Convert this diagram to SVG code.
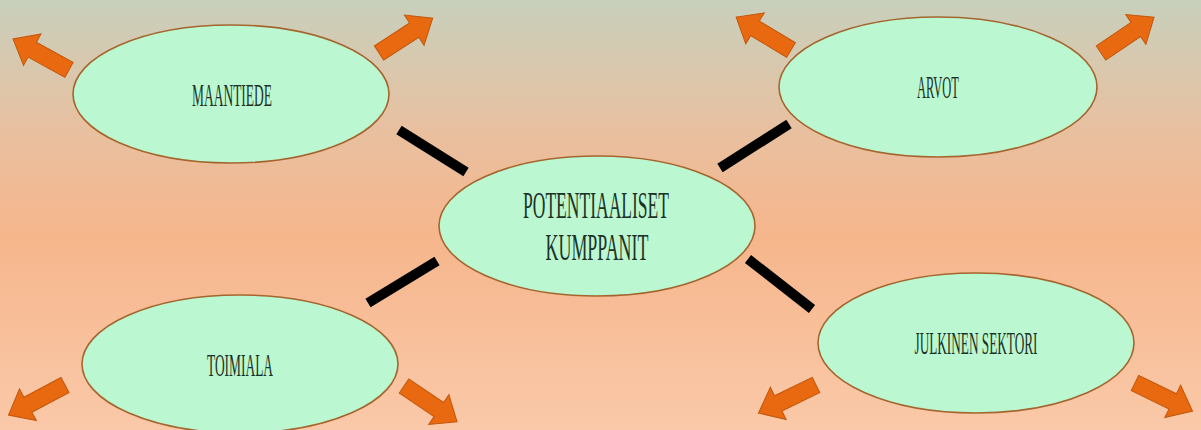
<svg xmlns="http://www.w3.org/2000/svg" width="1201" height="430" viewBox="0 0 1201 430">
<style>
.node ellipse{fill:#bbf7d0;stroke:#a5652e;stroke-width:1.6}
.lbl{font-family:"Liberation Serif","DejaVu Serif",serif;fill:#1c3327;text-anchor:middle}
.bar{stroke:#000;stroke-width:10;stroke-linecap:butt}
.arrow{fill:#e8690f;stroke:#c2570c;stroke-width:1}
</style>
<defs>
<linearGradient id="bg" x1="0" y1="0" x2="0" y2="1">
<stop offset="0" stop-color="#c8d0bc"/>
<stop offset="0.3" stop-color="#e8c0a0"/>
<stop offset="0.55" stop-color="#f6b68c"/>
<stop offset="1" stop-color="#fac9a9"/>
</linearGradient>
<path id="arr" d="M0,-8.5 L42,-8.5 L42,-18 L64,0 L42,18 L42,8.5 L0,8.5 Z"/>
</defs>
<rect width="1201" height="430" fill="url(#bg)"/>
<g id="connectors">
<line class="bar" x1="399" y1="130" x2="466" y2="172"/>
<line class="bar" x1="720" y1="168" x2="789" y2="124"/>
<line class="bar" x1="368" y1="303" x2="437" y2="261"/>
<line class="bar" x1="748" y1="259" x2="812" y2="309"/>
</g>
<g id="arrows">
<use href="#arr" class="arrow" transform="translate(69,70) rotate(-151)"/>
<use href="#arr" class="arrow" transform="translate(379,53) rotate(-33)"/>
<use href="#arr" class="arrow" transform="translate(791,50) rotate(-149)"/>
<use href="#arr" class="arrow" transform="translate(1101,53) rotate(-34)"/>
<use href="#arr" class="arrow" transform="translate(65,385) rotate(152)"/>
<use href="#arr" class="arrow" transform="translate(404,386) rotate(34)"/>
<use href="#arr" class="arrow" transform="translate(816,385) rotate(154)"/>
<use href="#arr" class="arrow" transform="translate(1135,383) rotate(26)"/>
</g>
<g id="node-maantiede" class="node">
<ellipse cx="231" cy="94" rx="158" ry="69"/>
<text class="lbl" x="232" y="106" font-size="32" textLength="80" lengthAdjust="spacingAndGlyphs">MAANTIEDE</text>
</g>
<g id="node-arvot" class="node">
<ellipse cx="938" cy="87" rx="159" ry="70"/>
<text class="lbl" x="938" y="98" font-size="32" textLength="42" lengthAdjust="spacingAndGlyphs">ARVOT</text>
</g>
<g id="node-potentiaaliset" class="node">
<ellipse cx="597" cy="226" rx="158" ry="70"/>
<text class="lbl" x="596" y="218" font-size="38" textLength="146" lengthAdjust="spacingAndGlyphs">POTENTIAALISET</text>
<text class="lbl" x="597" y="260" font-size="38" textLength="103" lengthAdjust="spacingAndGlyphs">KUMPPANIT</text>
</g>
<g id="node-toimiala" class="node">
<ellipse cx="240" cy="364" rx="158" ry="69"/>
<text class="lbl" x="240" y="376" font-size="32" textLength="66" lengthAdjust="spacingAndGlyphs">TOIMIALA</text>
</g>
<g id="node-julkinen" class="node">
<ellipse cx="976" cy="343" rx="158" ry="70"/>
<text class="lbl" x="976" y="354" font-size="32" textLength="123" lengthAdjust="spacingAndGlyphs">JULKINEN SEKTORI</text>
</g>
</svg>
